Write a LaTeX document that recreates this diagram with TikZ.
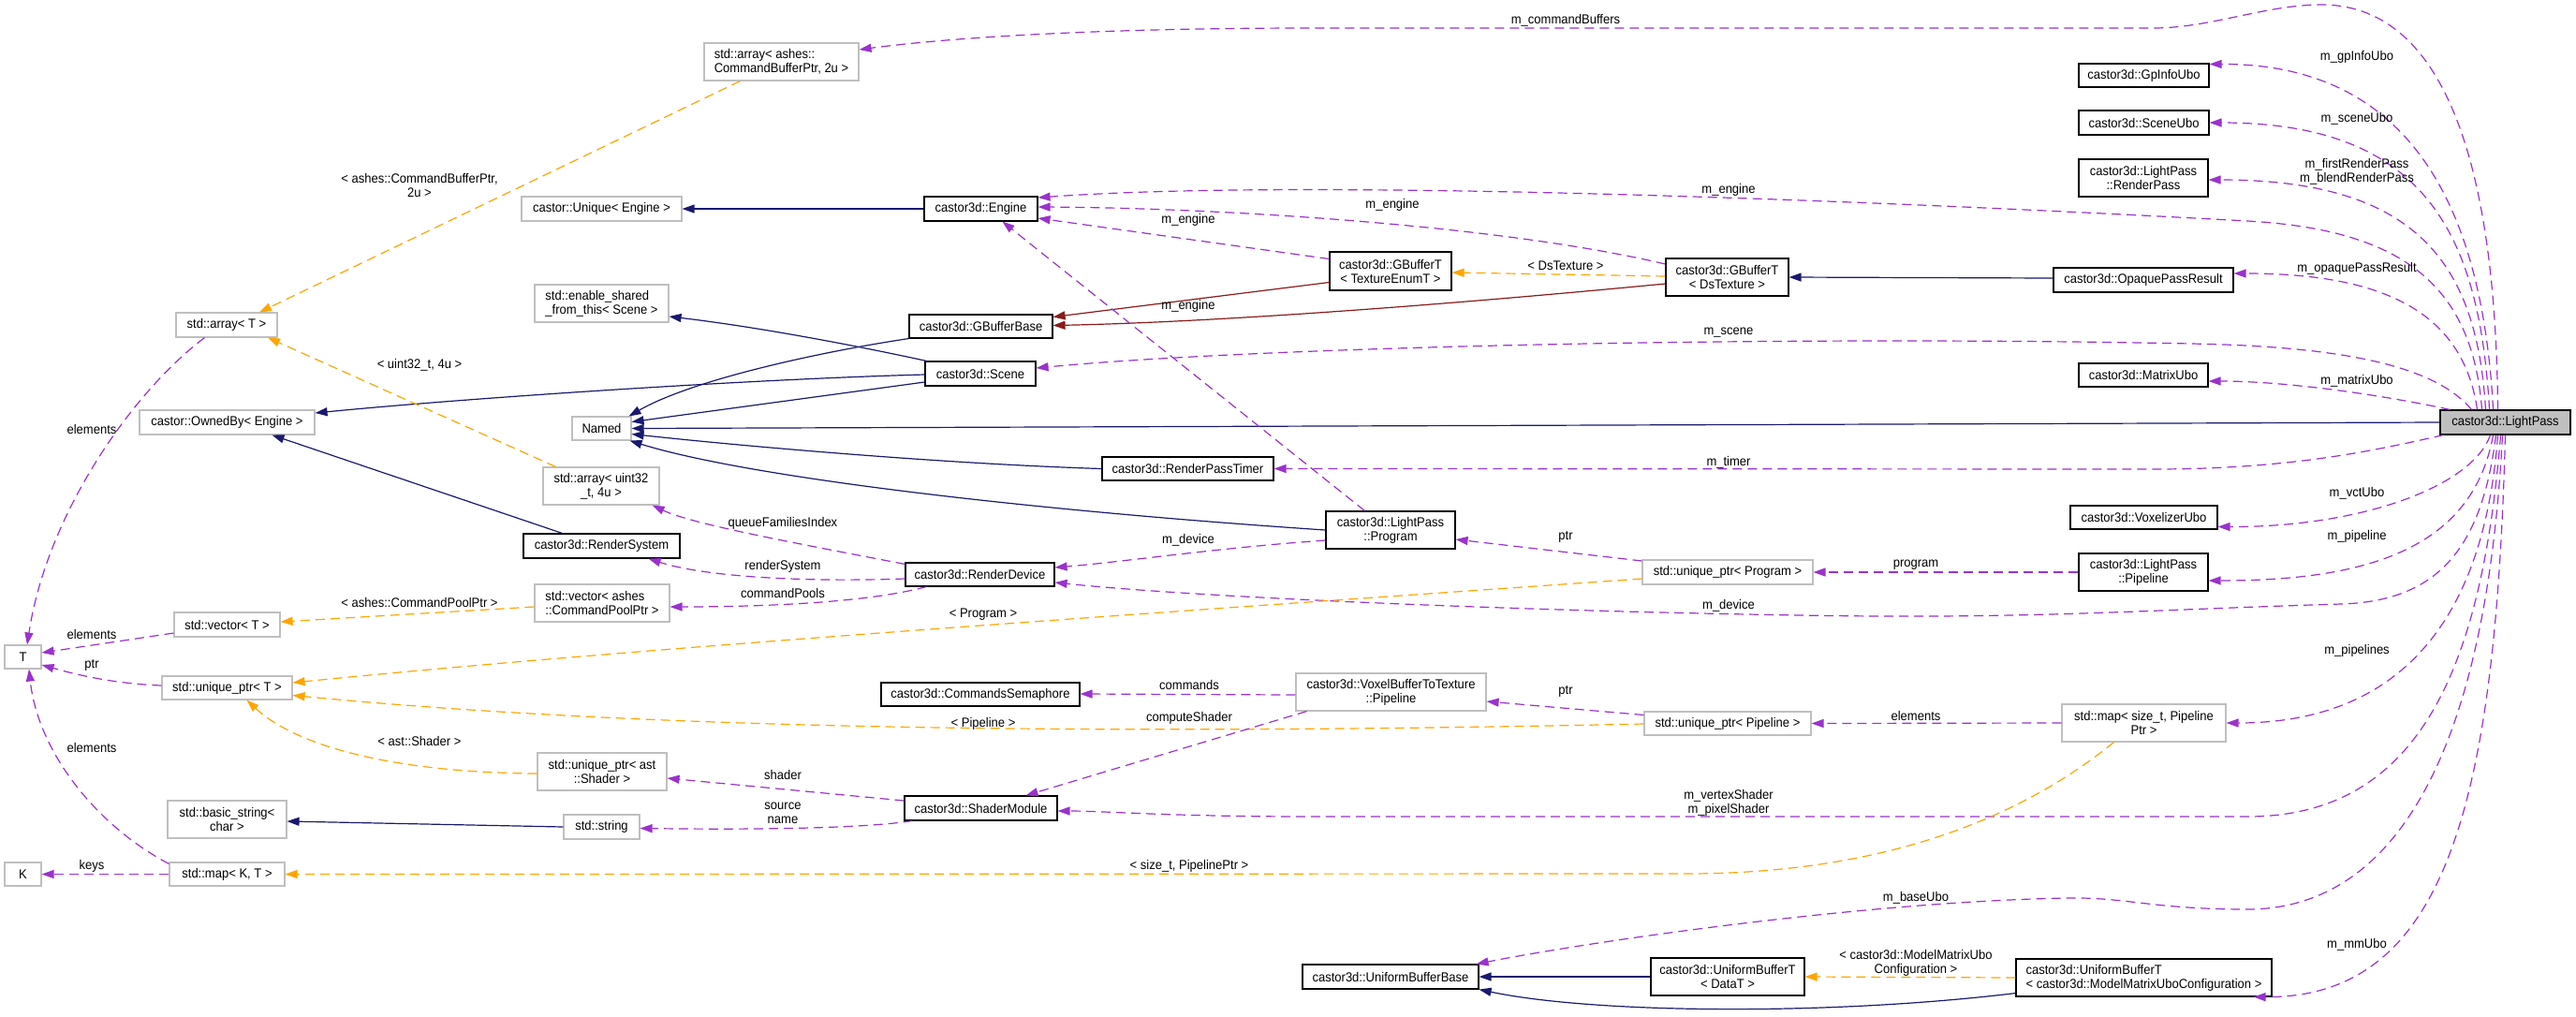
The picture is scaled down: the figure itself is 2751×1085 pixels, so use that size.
\documentclass[tikz,border=0pt]{standalone}
\usepackage{fontspec}
\setmainfont{Liberation Sans}[FakeStretch=0.93]
\usetikzlibrary{arrows.meta,calc}
\definecolor{cP}{HTML}{9A32CD}
\definecolor{cO}{HTML}{FFA500}
\definecolor{cN}{HTML}{191970}
\definecolor{cR}{HTML}{8B1A1A}
\definecolor{cG}{HTML}{BFBFBF}
\newcommand{\mkbox}[7]{\node[#1, minimum width={#5-#3}, minimum height={#6-#4}] (#2) at ({(#3+#5)/2},{(#4+#6)/2}) {#7};}
\tikzset{
  basebox/.style={rectangle, inner sep=2pt, align=center, fill=white, line width=1.1pt},
  docbox/.style={basebox, draw=black},
  udbox/.style={basebox, draw=cG},
  mainbox/.style={basebox, draw=black, fill=cG},
  lbl/.style={inner sep=0pt, align=center},
  tipP/.style={-{Triangle[length=13pt,width=9pt]}},
  memb/.style={draw=cP, line width=1.2pt, dash pattern=on 10pt off 6pt, tipP},
  tmpl/.style={draw=cO, line width=1.2pt, dash pattern=on 10pt off 6pt, tipP},
  inhr/.style={draw=cN, line width=1.2pt, tipP},
  privinh/.style={draw=cR, line width=1.2pt, tipP},
}
\begin{document}
\begin{tikzpicture}[x=1pt,y=-1pt,font=\fontsize{14pt}{15pt}\selectfont]
\path[use as bounding box, fill=white] (0,0) rectangle (2751,1085);

% ---------- nodes ----------
\mkbox{udbox,align=left}{arrCB}{752}{46}{917}{86}{std::array< ashes::\\CommandBufferPtr, 2u >}
\mkbox{udbox}{unique}{557}{210}{728}{236}{castor::Unique< Engine >}
\mkbox{udbox,align=left}{esft}{571}{304}{714}{344}{std::enable\_shared\\\_from\_this< Scene >}
\mkbox{udbox}{arrT}{188}{334}{296}{360}{std::array< T >}
\mkbox{docbox}{engine}{987}{210}{1108}{236}{castor3d::Engine}
\mkbox{docbox}{gbb}{971}{336}{1124}{361}{castor3d::GBufferBase}
\mkbox{docbox}{gbtex}{1420}{269}{1550}{310}{castor3d::GBufferT\\< TextureEnumT >}
\mkbox{docbox}{gbds}{1779}{276}{1910}{316}{castor3d::GBufferT\\< DsTexture >}
\mkbox{docbox}{gpinfo}{2220}{68}{2359}{93}{castor3d::GpInfoUbo}
\mkbox{docbox}{sceneubo}{2220}{118}{2359}{144}{castor3d::SceneUbo}
\mkbox{docbox}{rpass}{2220}{170}{2358}{210}{castor3d::LightPass\\::RenderPass}
\mkbox{docbox}{opr}{2193}{286}{2385}{312}{castor3d::OpaquePassResult}
\mkbox{udbox}{ownedby}{149}{438}{336}{464}{castor::OwnedBy< Engine >}
\mkbox{udbox}{named}{611}{445}{674}{470}{Named}
\mkbox{docbox}{scene}{988}{386}{1106}{412}{castor3d::Scene}
\mkbox{docbox}{matrix}{2220}{388}{2358}{413}{castor3d::MatrixUbo}
\mkbox{mainbox}{lp}{2606}{438}{2745}{464}{castor3d::LightPass}
\mkbox{udbox}{arru32}{580}{499}{704}{539}{std::array< uint32\\\_t, 4u >}
\mkbox{docbox}{timer}{1177}{488}{1360}{513}{castor3d::RenderPassTimer}
\mkbox{docbox}{rsys}{559}{570}{726}{596}{castor3d::RenderSystem}
\mkbox{docbox}{program}{1416}{546}{1554}{586}{castor3d::LightPass\\::Program}
\mkbox{docbox}{vox}{2211}{540}{2368}{565}{castor3d::VoxelizerUbo}
\mkbox{docbox}{rdev}{967}{601}{1126}{626}{castor3d::RenderDevice}
\mkbox{udbox}{uprog}{1754}{598}{1936}{624}{std::unique\_ptr< Program >}
\mkbox{docbox}{lpipe}{2220}{591}{2358}{631}{castor3d::LightPass\\::Pipeline}
\mkbox{udbox,align=left}{vecpool}{571}{624}{715}{664}{std::vector< ashes\\::CommandPoolPtr >}
\mkbox{udbox}{vecT}{186}{654}{299}{680}{std::vector< T >}
\mkbox{udbox}{T}{5}{689}{44}{714}{T}
\mkbox{udbox}{uptrT}{173}{722}{312}{747}{std::unique\_ptr< T >}
\mkbox{docbox}{csem}{941}{729}{1153}{754}{castor3d::CommandsSemaphore}
\mkbox{udbox}{vbt}{1384}{719}{1587}{759}{castor3d::VoxelBufferToTexture\\::Pipeline}
\mkbox{udbox}{upipe}{1756}{760}{1934}{785}{std::unique\_ptr< Pipeline >}
\mkbox{udbox}{mapsz}{2202}{752}{2377}{792}{std::map< size\_t, Pipeline\\Ptr >}
\mkbox{udbox}{upast}{574}{804}{712}{844}{std::unique\_ptr< ast\\::Shader >}
\mkbox{udbox}{bstr}{179}{855}{306}{895}{std::basic\_string<\\char >}
\mkbox{udbox}{str}{602}{870}{683}{896}{std::string}
\mkbox{docbox}{smod}{966}{850}{1129}{876}{castor3d::ShaderModule}
\mkbox{udbox}{K}{5}{921}{44}{946}{K}
\mkbox{udbox}{mapKT}{181}{921}{304}{946}{std::map< K, T >}
\mkbox{docbox}{ubb}{1391}{1030}{1579}{1056}{castor3d::UniformBufferBase}
\mkbox{docbox}{ubtd}{1763}{1023}{1927}{1063}{castor3d::UniformBufferT\\< DataT >}
\mkbox{docbox,align=left}{ubtm}{2153}{1024}{2426}{1064}{castor3d::UniformBufferT\\< castor3d::ModelMatrixUboConfiguration >}

% ---------- LightPass top fan ----------
\draw[memb] ($(lp.north)+(-8,0)$) .. controls (2665,150) and (2600,5) .. (2479,5) .. controls (2420,5) and (2360,30) .. (2300,30) -- (1400,30) .. controls (1150,30) and (1000,42) .. ($(arrCB.east)+(0,-13)$);
\draw[memb] ($(lp.north)+(-13,0)$) .. controls (2650,200) and (2560,68) .. ($(gpinfo.east)+(0,-12)$);
\draw[memb] ($(lp.north)+(-17,0)$) .. controls (2648,250) and (2590,131) .. (sceneubo.east);
\draw[memb] ($(lp.north)+(-21,0)$) .. controls (2645,280) and (2580,192) .. ($(rpass.east)+(0,2)$);
\draw[memb] ($(lp.north)+(-25,0)$) .. controls (2640,300) and (2560,245) .. (2400,236) .. controls (2000,214) and (1400,190) .. ($(engine.east)+(0,-12)$);
\draw[memb] ($(lp.north)+(-30,0)$) .. controls (2630,330) and (2540,292) .. ($(opr.east)+(0,-7)$);
\draw[memb] ($(lp.north)+(-36,0)$) .. controls (2600,390) and (2500,370) .. (2340,367) .. controls (1900,358) and (1350,370) .. ($(scene.east)+(0,-6)$);
\draw[memb] ($(lp.north west)+(11,0)$) .. controls (2560,425) and (2450,407) .. ($(matrix.east)+(0,6.5)$);

% ---------- LightPass bottom fan ----------
\draw[memb] ($(lp.south west)+(4,0)$) .. controls (2540,480) and (2450,501) .. (2300,501) -- (timer.east);
\draw[memb] ($(lp.south)+(-16,0)$) .. controls (2640,520) and (2520,563) .. ($(vox.east)+(0,10)$);
\draw[memb] ($(lp.south)+(-13,0)$) .. controls (2640,590) and (2520,620) .. ($(lpipe.east)+(0,9)$);
\draw[memb] ($(lp.south)+(-10,0)$) .. controls (2650,590) and (2600,642) .. (2500,645) .. controls (2300,651) and (2200,659) .. (2000,658) .. controls (1700,655) and (1300,640) .. ($(rdev.east)+(0,8.5)$);
\draw[memb] ($(lp.south)+(-8,0)$) .. controls (2650,700) and (2530,772) .. (mapsz.east);
\draw[memb] ($(lp.south)+(-5,0)$) .. controls (2650,720) and (2580,872) .. (2400,872) -- (1400,872) .. controls (1250,872) and (1180,866) .. ($(smod.east)+(0,3)$);
\draw[memb] ($(lp.south)+(-3,0)$) .. controls (2655,800) and (2560,971) .. (2400,971) .. controls (2300,971) and (2270,958) .. (2210,959) .. controls (2000,962) and (1700,1005) .. ($(ubb.north east)+(-3,0)$);
\draw[memb] (lp.south) .. controls (2665,850) and (2615,1066) .. ($(ubtm.south east)+(-20,0)$);

% ---------- inheritance ----------
\draw[inhr] (lp.west) -- (named.east);
\draw[inhr] (engine.west) -- (unique.east);
\draw[inhr] ($(opr.west)+(0,-2)$) -- (gbds.east);
\draw[inhr] (gbb.south west) .. controls (880,375) and (740,405) .. ($(named.north east)+(-3,0)$);
\draw[inhr] ($(scene.north west)+(2,0)$) .. controls (900,366) and (800,348) .. ($(esft.east)+(0,14)$);
\draw[inhr] ($(scene.west)+(0,1)$) .. controls (800,405) and (500,425) .. ($(ownedby.east)+(0,-10)$);
\draw[inhr] ($(scene.west)+(0,9)$) -- ($(named.east)+(0,-7)$);
\draw[inhr] (timer.west) .. controls (1000,495) and (780,475) .. ($(named.east)+(0,6)$);
\draw[inhr] (program.west) .. controls (1100,545) and (800,510) .. ($(named.south east)+(-2,0)$);
\draw[inhr] ($(rsys.north)+(-42,0)$) -- ($(ownedby.south)+(48,0)$);
\draw[inhr] (str.west) -- ($(bstr.east)+(0,2)$);
\draw[inhr] (ubtd.west) -- (ubb.east);
\draw[inhr] ($(ubtm.south west)+(0,-4)$) .. controls (1950,1085) and (1700,1082) .. (ubb.south east);
\draw[privinh] ($(gbtex.west)+(0,12)$) -- ($(gbb.east)+(0,-10)$);
\draw[privinh] ($(gbds.west)+(0,7)$) .. controls (1550,325) and (1300,344) .. ($(gbb.east)+(0,-1)$);

% ---------- template instances ----------
\draw[tmpl] ($(gbds.west)+(0,-1)$) -- ($(gbtex.east)+(0,1.5)$);
\draw[tmpl] ($(arrCB.south west)+(39,0)$) -- ($(arrT.north)+(35,0)$);
\draw[tmpl] ($(arru32.north west)+(14,0)$) -- ($(arrT.south)+(44,0)$);
\draw[tmpl] ($(vecpool.west)+(0,4)$) -- ($(vecT.east)+(0,-3)$);
\draw[tmpl] ($(uprog.west)+(0,7)$) .. controls (1300,650) and (700,690) .. ($(uptrT.east)+(0,-5.5)$);
\draw[tmpl] ($(upipe.west)+(0,0.5)$) .. controls (1200,785) and (700,780) .. ($(uptrT.east)+(0,8)$);
\draw[tmpl] ($(upast.west)+(0,2)$) .. controls (430,825) and (320,800) .. ($(uptrT.south)+(21,0)$);
\draw[tmpl] ($(mapsz.south)+(-32,0)$) .. controls (2150,880) and (2000,933) .. (1800,933) -- (mapKT.east);
\draw[tmpl] (ubtm.west) -- (ubtd.east);

% ---------- other members ----------
\draw[memb] ($(gbds.west)+(0,-14)$) .. controls (1600,240) and (1300,222) .. ($(engine.east)+(0,-2)$);
\draw[memb] ($(gbtex.west)+(0,-13)$) -- ($(engine.east)+(0,10)$);
\draw[memb] ($(program.north west)+(42,0)$) -- ($(engine.south west)+(84,0)$);
\draw[memb] ($(arrT.south west)+(31,0)$) .. controls (140,420) and (50,550) .. ($(T.north)+(4.5,0)$);
\draw[memb] ($(vecT.west)+(0,9)$) -- ($(T.east)+(0,-4.5)$);
\draw[memb] ($(uptrT.west)+(0,-2.5)$) .. controls (120,730) and (80,720) .. ($(T.east)+(0,8.5)$);
\draw[memb] ($(mapKT.north west)+(0,2)$) .. controls (100,880) and (40,800) .. ($(T.south)+(6.5,0)$);
\draw[memb] (mapKT.west) -- (K.east);
\draw[memb] ($(rdev.north west)+(0,2)$) .. controls (850,580) and (740,560) .. ($(arru32.south east)+(-8,0)$);
\draw[memb] ($(rdev.west)+(0,4.5)$) .. controls (850,622) and (750,615) .. ($(rsys.south east)+(-34,0)$);
\draw[memb] ($(rdev.south west)+(23,0)$) .. controls (920,645) and (800,648) .. ($(vecpool.east)+(0,4)$);
\draw[memb] ($(program.west)+(0,11)$) .. controls (1300,585) and (1200,600) .. ($(rdev.east)+(0,-7.5)$);
\draw[memb] ($(uprog.west)+(0,-12)$) -- ($(program.east)+(0,10)$);
\draw[memb] (lpipe.west) -- (uprog.east);
\draw[memb] ($(vbt.west)+(0,3)$) -- ($(csem.east)+(0,-0.5)$);
\draw[memb] ($(vbt.south west)+(12,0)$) -- ($(smod.north)+(48,0)$);
\draw[memb] ($(upipe.west)+(0,-9)$) -- ($(vbt.east)+(0,10)$);
\draw[memb] (mapsz.west) -- (upipe.east);
\draw[memb] ($(smod.west)+(0,-8)$) -- ($(upast.east)+(0,7)$);
\draw[memb] ($(smod.south west)+(9,0)$) .. controls (920,885) and (800,886) .. ($(str.east)+(0,1.5)$);

% ---------- labels ----------
\node[lbl] (t1) at (448,198) {< ashes::CommandBufferPtr,\\2u >};
\node[lbl] (t2) at (1672,22) {m\_commandBuffers};
\node[lbl] (t3) at (2517,61) {m\_gpInfoUbo};
\node[lbl] (t4) at (2517,127) {m\_sceneUbo};
\node[lbl] (t5) at (2517,183) {m\_firstRenderPass\\m\_blendRenderPass};
\node[lbl] (t6) at (1846,203) {m\_engine};
\node[lbl] (t7) at (1487,219) {m\_engine};
\node[lbl] (t8) at (1269,235) {m\_engine};
\node[lbl] (t9) at (1672,284) {< DsTexture >};
\node[lbl] (t10) at (2517,287) {m\_opaquePassResult};
\node[lbl] (t11) at (1269,327) {m\_engine};
\node[lbl] (t12) at (1846,355) {m\_scene};
\node[lbl] (t13) at (448,390) {< uint32\_t, 4u >};
\node[lbl] (t14) at (2517,407) {m\_matrixUbo};
\node[lbl] (t15) at (98,458) {elements};
\node[lbl] (t16) at (1846,494) {m\_timer};
\node[lbl] (t17) at (2517,527) {m\_vctUbo};
\node[lbl] (t18) at (836,559) {queueFamiliesIndex};
\node[lbl] (t19) at (1672,573) {ptr};
\node[lbl] (t20) at (1269,577) {m\_device};
\node[lbl] (t21) at (2517,573) {m\_pipeline};
\node[lbl] (t22) at (2046,603) {program};
\node[lbl] (t23) at (836,605) {renderSystem};
\node[lbl] (t24) at (836,633) {commandPools};
\node[lbl] (t25) at (448,643) {< ashes::CommandPoolPtr >};
\node[lbl] (t26) at (1846,647) {m\_device};
\node[lbl] (t27) at (1050,656) {< Program >};
\node[lbl] (t28) at (98,677) {elements};
\node[lbl] (t29) at (2517,695) {m\_pipelines};
\node[lbl] (t30) at (98,710) {ptr};
\node[lbl] (t31) at (1270,731) {commands};
\node[lbl] (t32) at (1672,738) {ptr};
\node[lbl] (t33) at (2046,764) {elements};
\node[lbl] (t34) at (1270,767) {computeShader};
\node[lbl] (t35) at (1050,773) {< Pipeline >};
\node[lbl] (t36) at (448,791) {< ast::Shader >};
\node[lbl] (t37) at (98,798) {elements};
\node[lbl] (t38) at (836,827) {shader};
\node[lbl] (t39) at (1846,857) {m\_vertexShader\\m\_pixelShader};
\node[lbl] (t40) at (836,868) {source\\name};
\node[lbl] (t41) at (1270,925) {< size\_t, PipelinePtr >};
\node[lbl] (t42) at (98,925) {keys};
\node[lbl] (t43) at (2046,959) {m\_baseUbo};
\node[lbl] (t44) at (2517,1009) {m\_mmUbo};
\node[lbl] (t45) at (2046,1028) {< castor3d::ModelMatrixUbo\\Configuration >};
\end{tikzpicture}
\end{document}
